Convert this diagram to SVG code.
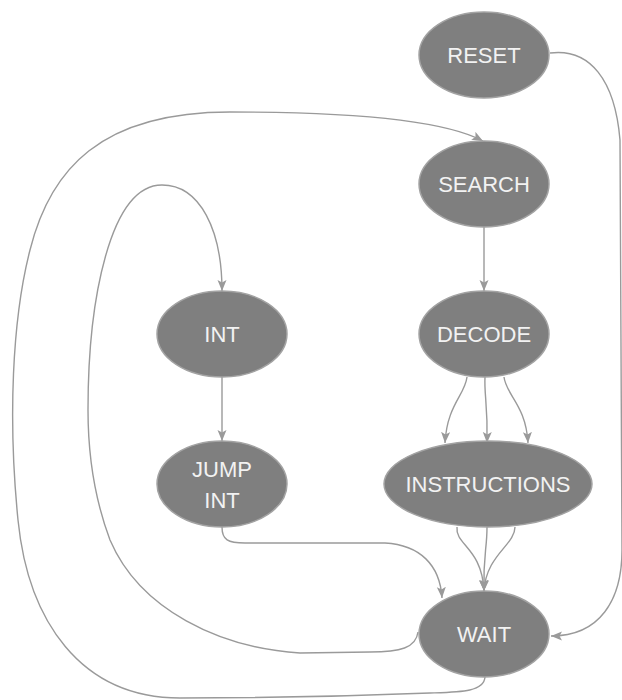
<svg xmlns="http://www.w3.org/2000/svg" width="622" height="700" viewBox="0 0 622 700">
<style>
.node ellipse{fill:#7f7f7f;stroke:#a3a3a3;stroke-width:1.5}
.node text{fill:#f2f2f2;font-family:"Liberation Sans",Arial,sans-serif;font-size:22px;text-anchor:middle}
.edge{fill:none;stroke:#9a9a9a;stroke-width:1.4;marker-end:url(#arr)}
</style>
<defs>
<marker id="arr" markerUnits="userSpaceOnUse" markerWidth="12" markerHeight="10" refX="11" refY="4.5" orient="auto">
<path d="M0,0 L11,4.5 L0,9 L2.5,4.5 z" fill="#9a9a9a"/>
</marker>
</defs>
<rect width="622" height="700" fill="#ffffff"/>
<g id="edges">
<path class="edge" d="M550,53 C590,48 615,80 620,140 L622,550 C622,600 600,636 551,636"/>
<path class="edge" d="M484,227 L484,291"/>
<path class="edge" d="M467,377 C465,395 447,405 445,443"/>
<path class="edge" d="M485,377 C484,395 488,405 487,443"/>
<path class="edge" d="M504,377 C506,395 526,405 528,443"/>
<path class="edge" d="M457,527 C455,545 482,548 484,591"/>
<path class="edge" d="M487,527 C487,550 483,555 484,591"/>
<path class="edge" d="M515,527 C515,545 486,555 484,591"/>
<path class="edge" d="M222,377 L222,441"/>
<path class="edge" d="M222,527 C222,540 228,543 245,543 L385,543 C420,545 440,565 442,598"/>
<path class="edge" d="M418,632 C416,648 400,652 370,652 L300,653 C220,648 140,610 110,540 C95,500 88,460 88,410 C88,300 110,185 162,185 C200,185 222,230 222,291"/>
<path class="edge" d="M485,677 C484,692 460,692 430,693 C330,697 250,698 180,698 C80,698 28,620 18,520 C8,420 12,320 30,250 C50,170 100,112 230,112 C330,112 440,118 483,141"/>
</g>
<g id="RESET" class="node"><ellipse cx="484" cy="55" rx="65" ry="43"/><text x="484" y="63">RESET</text></g>
<g id="SEARCH" class="node"><ellipse cx="484" cy="184" rx="65" ry="43"/><text x="484" y="192">SEARCH</text></g>
<g id="DECODE" class="node"><ellipse cx="484" cy="334" rx="65" ry="43"/><text x="484" y="342">DECODE</text></g>
<g id="INSTRUCTIONS" class="node"><ellipse cx="488" cy="484" rx="104" ry="43"/><text x="488" y="492">INSTRUCTIONS</text></g>
<g id="WAIT" class="node"><ellipse cx="484" cy="634" rx="65" ry="43"/><text x="484" y="642">WAIT</text></g>
<g id="INT" class="node"><ellipse cx="222" cy="334" rx="65" ry="43"/><text x="222" y="342">INT</text></g>
<g id="JUMP_INT" class="node"><ellipse cx="222" cy="484" rx="65" ry="43"/><text x="222" y="477">JUMP</text><text x="222" y="508">INT</text></g>
</svg>
